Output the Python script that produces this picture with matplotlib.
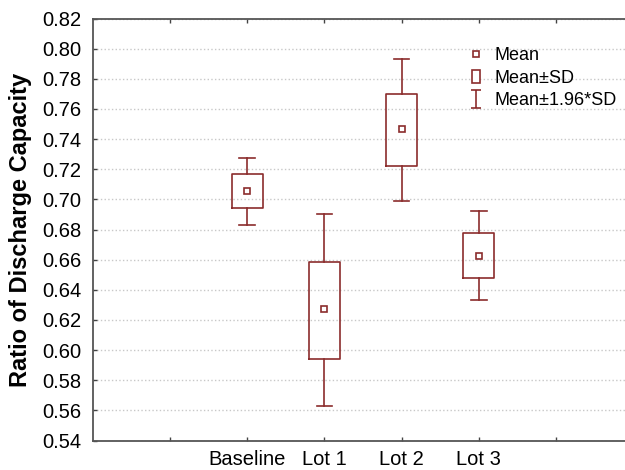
import matplotlib
matplotlib.use("Agg")
import matplotlib.pyplot as plt
from matplotlib.patches import Patch
from matplotlib.lines import Line2D
from matplotlib.path import Path

plt.rcParams['font.family'] = ['Liberation Sans', 'DejaVu Sans']

# valeurs
groups = ["Baseline", "Lot 1", "Lot 2", "Lot 3"]
positions = [2, 3, 4, 5]
means = [0.7058, 0.6270, 0.7464, 0.6627]
sd_low = [0.6940, 0.5940, 0.7220, 0.6477]
sd_high = [0.7169, 0.6585, 0.7697, 0.6776]
ci_low = [0.6831, 0.5626, 0.6987, 0.6332]
ci_high = [0.7276, 0.6905, 0.7930, 0.6920]
yticks = [0.54, 0.56, 0.58, 0.60, 0.62, 0.64, 0.66, 0.68, 0.70, 0.72, 0.74, 0.76, 0.78, 0.80, 0.82]

col = '#8b2c2c'

fig = plt.figure(figsize=(6.25, 4.7), dpi=100)
ax = fig.add_axes([92.5/625, 1-440.5/470, 541/625, 422/470])

stats = []
for i in range(len(groups)):
    stats.append({'med': means[i], 'mean': means[i], 'q1': sd_low[i], 'q3': sd_high[i],
                  'whislo': ci_low[i], 'whishi': ci_high[i], 'fliers': []})

ax.bxp(stats, positions=positions, widths=0.4, capwidths=0.2, showmeans=True,
       manage_ticks=False,
       boxprops=dict(color=col, linewidth=1.2),
       whiskerprops=dict(color=col, linewidth=1.2),
       capprops=dict(color=col, linewidth=1.2),
       medianprops=dict(linewidth=0),
       meanprops=dict(marker='s', markersize=4.8, markerfacecolor='white',
                      markeredgecolor=col, markeredgewidth=1.2))

ax.set_xlim(0, 7)
ax.set_ylim(0.54, 0.82)
ax.set_yticks(yticks)
ax.set_yticklabels(["%.2f" % v for v in yticks])
ax.set_xticks([1, 2, 3, 4, 5, 6])
ax.set_xticklabels(["", "Baseline", "Lot 1", "Lot 2", "Lot 3", ""])
ax.tick_params(direction='in', length=3, width=1, color='#444444', labelsize=14.5, top=True)
ax.tick_params(axis='y', pad=8)
ax.tick_params(axis='x', pad=6.5)
ax.yaxis.grid(True, linestyle=':', color='#c8c8c8', linewidth=1)
ax.set_axisbelow(True)
for s in ['left', 'top', 'bottom']:
    ax.spines[s].set_color('#555555')
    ax.spines[s].set_linewidth(1.3)
ax.spines['right'].set_visible(False)

ax.set_ylabel("Ratio of Discharge Capacity", fontsize=17, fontweight='bold')
ax.yaxis.set_label_coords(-0.112, 0.5)

# symbole "I" pour la legende Mean±1.96*SD
i_shape = Path([(-0.5, 1), (0.5, 1), (0, 1), (0, -1), (-0.5, -1), (0.5, -1)],
               [Path.MOVETO, Path.LINETO, Path.MOVETO, Path.LINETO, Path.MOVETO, Path.LINETO])
handles = [Line2D([], [], marker='s', markersize=4.8, markerfacecolor='white',
                  markeredgecolor=col, markeredgewidth=1.2, linestyle='none'),
           Patch(facecolor='white', edgecolor=col, linewidth=1.2),
           Line2D([], [], marker=i_shape, markersize=13, markerfacecolor='none',
                  markeredgecolor=col, markeredgewidth=1.2, linestyle='none')]
labels = ["Mean", "Mean\u00b1SD", "Mean\u00b11.96*SD"]
fig.legend(handles, labels, loc='upper left', bbox_to_anchor=(472/625, 1-47/470),
           frameon=False, fontsize=13, handlelength=0.45, handleheight=0.8,
           handletextpad=0.8, labelspacing=0.3, borderpad=0, borderaxespad=0)

fig.savefig("out.png", dpi=100)
